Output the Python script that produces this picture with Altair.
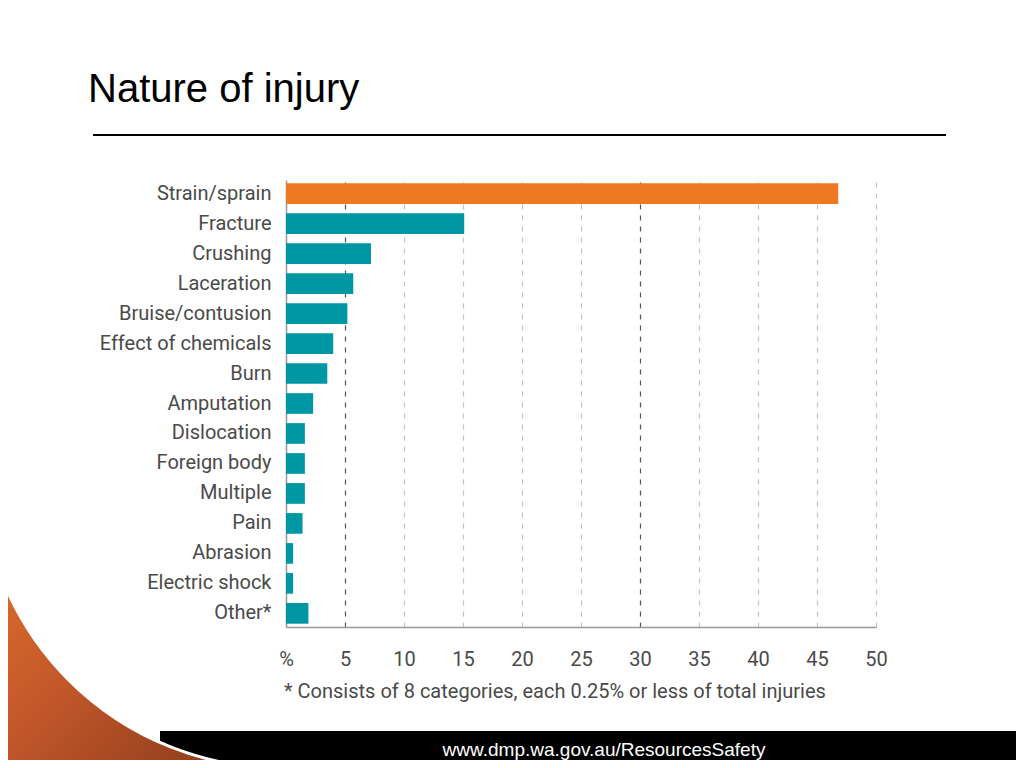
import altair as alt
import pandas as pd

categories = ["Strain/sprain", "Fracture", "Crushing", "Laceration", "Bruise/contusion",
              "Effect of chemicals", "Burn", "Amputation", "Dislocation", "Foreign body",
              "Multiple", "Pain", "Abrasion", "Electric shock", "Other*"]
percent = [46.8, 15.1, 7.2, 5.7, 5.2, 4.0, 3.5, 2.3, 1.6, 1.6, 1.6, 1.4, 0.6, 0.6, 1.9]
x_ticks = [0, 5, 10, 15, 20, 25, 30, 35, 40, 45, 50]

title_text = "Nature of injury"
footnote_text = "* Consists of 8 categories, each 0.25% or less of total injuries"
footer_text = "www.dmp.wa.gov.au/ResourcesSafety"

df = pd.DataFrame({"category": categories, "percent": percent})
one = pd.DataFrame({"k": [0]})

LABEL_FONT = "Roboto"
ORANGE = "#ED7A22"
TEAL = "#0097A5"

bars = alt.Chart(df).mark_bar().encode(
    y=alt.Y("category:N", sort=categories,
            scale=alt.Scale(paddingInner=0.31, paddingOuter=0.11),
            axis=alt.Axis(title=None, ticks=False, labelFontSize=20, labelFont=LABEL_FONT,
                          labelColor="#4a4a4a", labelPadding=15, labelLimit=0,
                          domainColor="#999999", domainWidth=1.5, grid=False)),
    x=alt.X("percent:Q", scale=alt.Scale(domain=[0, 50], nice=False),
            axis=alt.Axis(title=None, values=x_ticks, ticks=False, labelFontSize=20,
                          labelFont=LABEL_FONT, labelColor="#4a4a4a", labelPadding=22,
                          labelFlush=False,
                          labelExpr="datum.value == 0 ? '%' : datum.label",
                          domainColor="#999999", domainWidth=1.5,
                          grid=True, gridDash=[5, 6], gridWidth=1.2,
                          gridColor={"condition": {"test": "datum.value == 5 || datum.value == 30",
                                                   "value": "#555555"},
                                     "value": "#c4c4c4"})),
    color=alt.condition(alt.datum.category == "Strain/sprain", alt.value(ORANGE), alt.value(TEAL)),
)

title = alt.Chart(one).mark_text(text=title_text, align="left", baseline="alphabetic",
                                 fontSize=40, font="Liberation Sans", color="#000000").encode(
    x=alt.value(-198), y=alt.value(-78))

title_rule = alt.Chart(one).mark_rule(color="#000000", strokeWidth=2).encode(
    x=alt.value(-193), x2=alt.value(660), y=alt.value(-45))

footnote = alt.Chart(one).mark_text(text=footnote_text, align="left", baseline="alphabetic",
                                    fontSize=20, font=LABEL_FONT, color="#4a4a4a").encode(
    x=alt.value(-2), y=alt.value(518))

footer_bar = alt.Chart(one).mark_rect(color="#000000").encode(
    x=alt.value(-126), x2=alt.value(730), y=alt.value(551), y2=alt.value(590))

swoosh = alt.Chart(one).mark_arc(
    theta=3.1416, theta2=4.7124, radius=300, radius2=470,
    fill=alt.LinearGradient(gradient="linear",
                            stops=[alt.GradientStop(color="#e2722c", offset=0.25),
                                   alt.GradientStop(color="#c2572a", offset=0.5),
                                   alt.GradientStop(color="#7a3318", offset=0.85)],
                            x1=0, y1=0, x2=1, y2=1),
    stroke="#ffffff", strokeWidth=3).encode(
    x=alt.value(-5), y=alt.value(288))

footer = alt.Chart(one).mark_text(text=footer_text, align="center", baseline="alphabetic",
                                  fontSize=19, font="Liberation Sans", color="#ffffff").encode(
    x=alt.value(318), y=alt.value(576))

chart = alt.layer(footer_bar, swoosh, footer, title, title_rule, footnote, bars).properties(
    width=590, height=447,
    padding={"left": 278, "top": 172, "right": 140, "bottom": 133},
    autosize="none",
    background="#ffffff",
).configure_view(stroke=None)

chart.save("out.html", embed_options={"renderer": "svg", "actions": False})
